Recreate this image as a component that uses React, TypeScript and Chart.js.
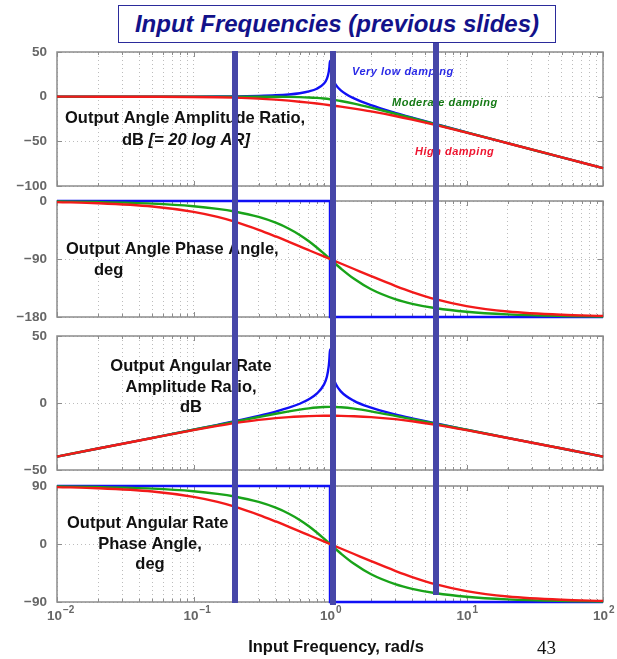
import React, { useEffect, useRef } from 'react';
import { Chart, registerables } from 'chart.js';
Chart.register(...registerables);

const FONT = '"Liberation Sans", Arial, Helvetica, sans-serif';

// ---------- data ----------
const freq = [0.01, 0.02, 0.05, 0.1, 0.15, 0.2, 0.3, 0.4, 0.5, 0.6, 0.7, 0.8, 0.9, 1, 1.1, 1.2, 1.5, 2, 3, 4, 6, 10, 20, 50, 100];
const blueFreq = [0.01, 0.02, 0.05, 0.1, 0.15, 0.2, 0.3, 0.4, 0.5, 0.6, 0.7, 0.8, 0.9, 0.95, 0.98, 0.99, 1, 1.01, 1.02, 1.05, 1.1, 1.2, 1.5, 2, 3, 4, 6, 10, 20, 50, 100];
const blueStepFreq = [0.01, 1, 1, 100];

// Output angle amplitude ratio, dB
const redAmp = [0, -0.01, -0.08, -0.29, -0.64, -1.08, -2.14, -3.32, -4.49, -5.62, -6.69, -7.7, -8.65, -9.54, -10.39, -11.19, -13.39, -16.53, -21.61, -25.67, -31.9, -40.29, -52.12, -67.97, -80];
const greenAmp = [0, 0, 0, 0, 0, 0, -0.02, -0.08, -0.22, -0.47, -0.87, -1.41, -2.11, -2.92, -3.83, -4.79, -7.76, -12.26, -19.12, -24.09, -31.12, -40, -52.04, -67.96, -80];
const blueAmp = [0, 0, 0.02, 0.09, 0.2, 0.35, 0.82, 1.51, 2.5, 3.88, 5.85, 8.87, 14.42, 20.22, 28.05, 33, 40, 33, 27.9, 19.8, 13.56, 7.13, -1.94, -9.54, -18.06, -23.52, -30.88, -39.91, -52.02, -67.96, -80];

// Output angle phase, deg
const redPhase = [-1.72, -3.43, -8.55, -16.86, -24.72, -32, -44.68, -55, -63.43, -70.43, -76.35, -81.47, -85.97, -90, -93.64, -96.97, -105.52, -116.57, -131.63, -141.34, -152.78, -163.14, -171.45, -176.57, -178.28];
const greenPhase = [-0.8, -1.6, -4.01, -8.05, -12.13, -16.26, -24.78, -33.69, -43.03, -52.7, -62.51, -72.18, -81.42, -90, -97.76, -104.68, -120.76, -136.97, -152.3, -159.53, -166.5, -171.95, -175.99, -178.4, -179.2];
const bluePhase = [0, 0, -180, -180];

// Output angular rate amplitude ratio, dB
const redRateAmp = [-40, -33.99, -26.1, -20.29, -17.12, -15.06, -12.6, -11.28, -10.51, -10.06, -9.79, -9.64, -9.57, -9.54, -9.56, -9.61, -9.87, -10.51, -12.07, -13.63, -16.34, -20.29, -26.1, -33.99, -40];
const greenRateAmp = [-40, -33.98, -26.02, -20, -16.48, -13.98, -10.48, -8.04, -6.24, -4.91, -3.97, -3.35, -3.03, -2.92, -3, -3.21, -4.24, -6.24, -9.58, -12.05, -15.56, -20, -26.02, -33.98, -40];
const blueRateAmp = [-40, -33.97, -26, -19.91, -16.28, -13.63, -9.64, -6.45, -3.52, -0.56, 2.75, 6.93, 13.5, 19.77, 27.87, 32.9, 40, 33.1, 28.1, 20.2, 14.4, 8.71, 1.58, -3.52, -8.52, -11.48, -15.32, -19.91, -26, -33.98, -40];

// Output angular rate phase, deg
const redRatePhase = [88.28, 86.57, 81.45, 73.14, 65.28, 58, 45.32, 35, 26.57, 19.57, 13.65, 8.53, 4.03, 0, -3.64, -6.97, -15.52, -26.57, -41.63, -51.34, -62.78, -73.14, -81.45, -86.57, -88.28];
const greenRatePhase = [89.2, 88.4, 85.99, 81.95, 77.87, 73.74, 65.22, 56.31, 46.97, 37.3, 27.49, 17.82, 8.58, 0, -7.76, -14.68, -30.76, -46.97, -62.3, -69.53, -76.5, -81.95, -85.99, -88.4, -89.2];
const blueRatePhase = [90, 90, -90, -90];

// Input frequencies marked on the plots
const markerFreqs = [0.2, 1.05, 6];

// ticks
const ampTicks = [-100, -50, 0, 50];
const phaseTicks = [-180, -90, 0];
const rateAmpTicks = [-50, 0, 50];
const ratePhaseTicks = [-90, 0, 90];
const xDecades = [0.01, 0.1, 1, 10, 100];
const xDecadeExps = ['\u22122', '\u22121', '0', '1', '2'];

const gridFreqs: number[] = [];
for (let e = -2; e < 2; e++) for (let m = 1; m < 10; m++) gridFreqs.push(+(m * Math.pow(10, e)).toPrecision(3));
gridFreqs.push(100);

// ---------- styles ----------
const RED = '#f21a1a';
const GREEN = '#19a319';
const BLUE = '#1010f5';
const MARK = '#4646a8';
const TICK_COLOR = '#666666';
const PAGE_H = 659;
const PAD = 22;

const pts = (xs: number[], ys: number[]) => xs.map((x, i) => ({ x, y: ys[i] }));

const smooth = (label: string, xs: number[], ys: number[], color: string) => ({
  label, data: pts(xs, ys), borderColor: color, borderWidth: 2.4, pointRadius: 0,
  cubicInterpolationMode: 'monotone' as const, fill: false, clip: 3,
});
const step = (label: string, xs: number[], ys: number[], color: string) => ({
  label, data: pts(xs, ys), borderColor: color, borderWidth: 2.4, pointRadius: 0, tension: 0, fill: false, clip: false,
});

type Part = { t: string; italic?: boolean };
type TextItem = { parts: Part[]; x: number; y: number; align: 'left' | 'center'; color?: string; size?: number; curve?: boolean };
type Marker = { v: number; top?: number; bottom?: number };

const mainText = (s: string, x: number, y: number, align: 'left' | 'center' = 'left'): TextItem => ({ parts: [{ t: s }], x, y, align });
const curveText = (s: string, x: number, y: number, color: string): TextItem => ({ parts: [{ t: s, italic: true }], x, y, align: 'left', color, size: 11, curve: true });

// page-space layout: plot area top/bottom for each panel
const panels = [
  {
    areaTop: 52, areaBottom: 186, min: -100, max: 50, ticks: ampTicks,
    datasets: [smooth('High damping', freq, redAmp, RED), smooth('Moderate damping', freq, greenAmp, GREEN), smooth('Very low damping', blueFreq, blueAmp, BLUE)],
    texts: [
      mainText('Output Angle Amplitude Ratio,', 65, 118),
      { parts: [{ t: 'dB ' }, { t: '[= 20 log AR]', italic: true }], x: 122, y: 140, align: 'left' as const },
      curveText('Very low damping', 352, 72, '#2a2ae6'),
      curveText('Moderate damping', 392, 103, '#157a15'),
      curveText('High damping', 415, 152, '#ee1530'),
    ],
    markers: [{ v: markerFreqs[0], top: -1 }, { v: markerFreqs[1], top: -1 }, { v: markerFreqs[2], top: -9 }] as Marker[],
    xLabels: false,
  },
  {
    areaTop: 201, areaBottom: 317, min: -180, max: 0, ticks: phaseTicks,
    datasets: [smooth('High damping', freq, redPhase, RED), smooth('Moderate damping', freq, greenPhase, GREEN), step('Very low damping', blueStepFreq, bluePhase, BLUE)],
    texts: [mainText('Output Angle Phase Angle,', 66, 249), mainText('deg', 94, 270)],
    markers: markerFreqs.map((v) => ({ v })) as Marker[],
    xLabels: false,
  },
  {
    areaTop: 336, areaBottom: 470, min: -50, max: 50, ticks: rateAmpTicks,
    datasets: [smooth('High damping', freq, redRateAmp, RED), smooth('Moderate damping', freq, greenRateAmp, GREEN), smooth('Very low damping', blueFreq, blueRateAmp, BLUE)],
    texts: [mainText('Output Angular Rate', 191, 366, 'center'), mainText('Amplitude Ratio,', 191, 387, 'center'), mainText('dB', 191, 407, 'center')],
    markers: markerFreqs.map((v) => ({ v })) as Marker[],
    xLabels: false,
  },
  {
    areaTop: 486, areaBottom: 602, min: -90, max: 90, ticks: ratePhaseTicks,
    datasets: [smooth('High damping', freq, redRatePhase, RED), smooth('Moderate damping', freq, greenRatePhase, GREEN), step('Very low damping', blueStepFreq, blueRatePhase, BLUE)],
    texts: [mainText('Output Angular Rate', 67, 523), mainText('Phase Angle,', 150, 544, 'center'), mainText('deg', 150, 564, 'center')],
    markers: [{ v: markerFreqs[0], bottom: 1 }, { v: markerFreqs[1], bottom: 3 }, { v: markerFreqs[2], bottom: -7 }] as Marker[],
    xLabels: true,
  },
];

const fmt = (v: number) => (v < 0 ? '\u2212' + Math.abs(v) : String(v));

const decor = {
  id: 'decor',
  beforeDatasetsDraw(chart: any, _a: any, opts: any) {
    const { ctx, chartArea: a, scales } = chart;
    ctx.save();
    ctx.strokeStyle = '#8c8c8c';
    ctx.lineWidth = 1.5;
    ctx.strokeRect(a.left, a.top, a.right - a.left, a.bottom - a.top);
    ctx.lineWidth = 1;
    ctx.beginPath();
    for (const f of gridFreqs) {
      const x = Math.round(scales.x.getPixelForValue(f)) + 0.5;
      const len = xDecades.includes(f) ? 5 : 3;
      ctx.moveTo(x, a.bottom); ctx.lineTo(x, a.bottom - len);
      ctx.moveTo(x, a.top); ctx.lineTo(x, a.top + len);
    }
    for (const v of opts.yTicks) {
      const y = Math.round(scales.y.getPixelForValue(v)) + 0.5;
      ctx.moveTo(a.left, y); ctx.lineTo(a.left + 5, y);
      ctx.moveTo(a.right, y); ctx.lineTo(a.right - 5, y);
    }
    ctx.stroke();
    ctx.restore();
  },
  afterDatasetsDraw(chart: any, _a: any, opts: any) {
    const { ctx, chartArea: a, scales } = chart;
    const off = opts.pageTop;
    ctx.save();
    ctx.textBaseline = 'middle';
    for (const t of opts.texts as TextItem[]) {
      const size = t.size || 16.5;
      ctx.fillStyle = t.color || '#111111';
      (ctx as any).letterSpacing = t.curve ? '0.5px' : '0px';
      const fonts = t.parts.map((p) => `${p.italic ? 'italic ' : ''}bold ${size}px ${FONT}`);
      const widths = t.parts.map((p, i) => { ctx.font = fonts[i]; return ctx.measureText(p.t).width; });
      const total = widths.reduce((s, w) => s + w, 0);
      let x = t.align === 'center' ? t.x - total / 2 : t.x;
      ctx.textAlign = 'left';
      t.parts.forEach((p, i) => { ctx.font = fonts[i]; ctx.fillText(p.t, x, t.y - off); x += widths[i]; });
    }
    (ctx as any).letterSpacing = '0px';
    if (opts.xLabels) {
      ctx.fillStyle = TICK_COLOR;
      xDecades.forEach((v, i) => {
        const x = scales.x.getPixelForValue(v);
        ctx.font = `bold 13.5px ${FONT}`;
        ctx.textAlign = 'right';
        ctx.fillText('10', x + 5, 616 - off);
        ctx.font = `bold 10px ${FONT}`;
        ctx.textAlign = 'left';
        ctx.fillText(xDecadeExps[i], x + 6, 610 - off);
      });
      ctx.fillStyle = '#111111';
      ctx.font = `bold 16.5px ${FONT}`;
      ctx.textAlign = 'center';
      ctx.fillText('Input Frequency, rad/s', 336, 647 - off);
    }
    ctx.fillStyle = MARK;
    for (const m of opts.markers as Marker[]) {
      const x = Math.round(scales.x.getPixelForValue(m.v));
      const y0 = Math.round(m.top == null ? 0 : a.top + m.top);
      const y1 = Math.round(m.bottom == null ? chart.height : a.bottom + m.bottom);
      ctx.fillRect(x - 3, y0, 6, y1 - y0);
    }
    ctx.restore();
  },
};

function Panel({ p, last }: { p: (typeof panels)[number]; last: boolean }) {
  const ref = useRef<HTMLCanvasElement | null>(null);
  const top = p.areaTop - PAD;
  const height = last ? PAGE_H - top : p.areaBottom + PAD - top;
  useEffect(() => {
    if (!ref.current) return;
    const grid = { color: '#bcbcbc', lineWidth: 1, drawTicks: false };
    const border = { display: false, dash: [1, 3] };
    const padBottom = top + height - p.areaBottom;
    const chart = new Chart(ref.current, {
      type: 'line',
      data: { datasets: p.datasets as any },
      options: {
        animation: false,
        responsive: false,
        devicePixelRatio: 1,
        layout: { padding: { left: 0, right: 14, top: PAD, bottom: padBottom } },
        plugins: {
          legend: { display: false },
          tooltip: { enabled: false },
          decor: { texts: p.texts, markers: p.markers, xLabels: p.xLabels, pageTop: top, yTicks: p.ticks },
        } as any,
        scales: {
          x: {
            type: 'logarithmic', min: 0.01, max: 100,
            afterBuildTicks: (s: any) => { s.ticks = gridFreqs.map((value) => ({ value })); },
            afterFit: (s: any) => { s.height = 0; },
            ticks: { display: false },
            grid, border,
          },
          y: {
            type: 'linear', min: p.min, max: p.max,
            afterBuildTicks: (s: any) => { s.ticks = p.ticks.map((value) => ({ value })); },
            afterFit: (s: any) => { s.width = 57; },
            ticks: { callback: (v: any) => fmt(Number(v)), font: { family: FONT, size: 13.5, weight: 'bold' }, color: TICK_COLOR, padding: 10 },
            grid, border,
          },
        } as any,
      },
      plugins: [decor],
    });
    return () => chart.destroy();
  }, [p]);
  return (
    <canvas
      ref={ref}
      width={617}
      height={height}
      style={{ position: 'absolute', left: 0, top, width: 617, height }}
    />
  );
}

export default function App() {
  return (
    <div style={{ position: 'absolute', left: 0, top: 0, width: 617, height: PAGE_H, background: '#fff', overflow: 'hidden' }}>
      <div
        style={{
          position: 'absolute', left: 118, top: 5, width: 438, height: 38, boxSizing: 'border-box',
          border: '1.5px solid #2b2b9b', background: '#fff', display: 'flex', alignItems: 'center', justifyContent: 'center',
          fontFamily: FONT, fontWeight: 'bold', fontStyle: 'italic', fontSize: 24, color: '#12128a', whiteSpace: 'nowrap',
        }}
      >
        Input Frequencies (previous slides)
      </div>
      {panels.map((p, i) => (
        <Panel key={i} p={p} last={i === panels.length - 1} />
      ))}
      <div style={{ position: 'absolute', left: 537, top: 638, fontFamily: '"Liberation Serif", "Times New Roman", serif', fontSize: 19, lineHeight: '20px', color: '#111' }}>
        43
      </div>
    </div>
  );
}
